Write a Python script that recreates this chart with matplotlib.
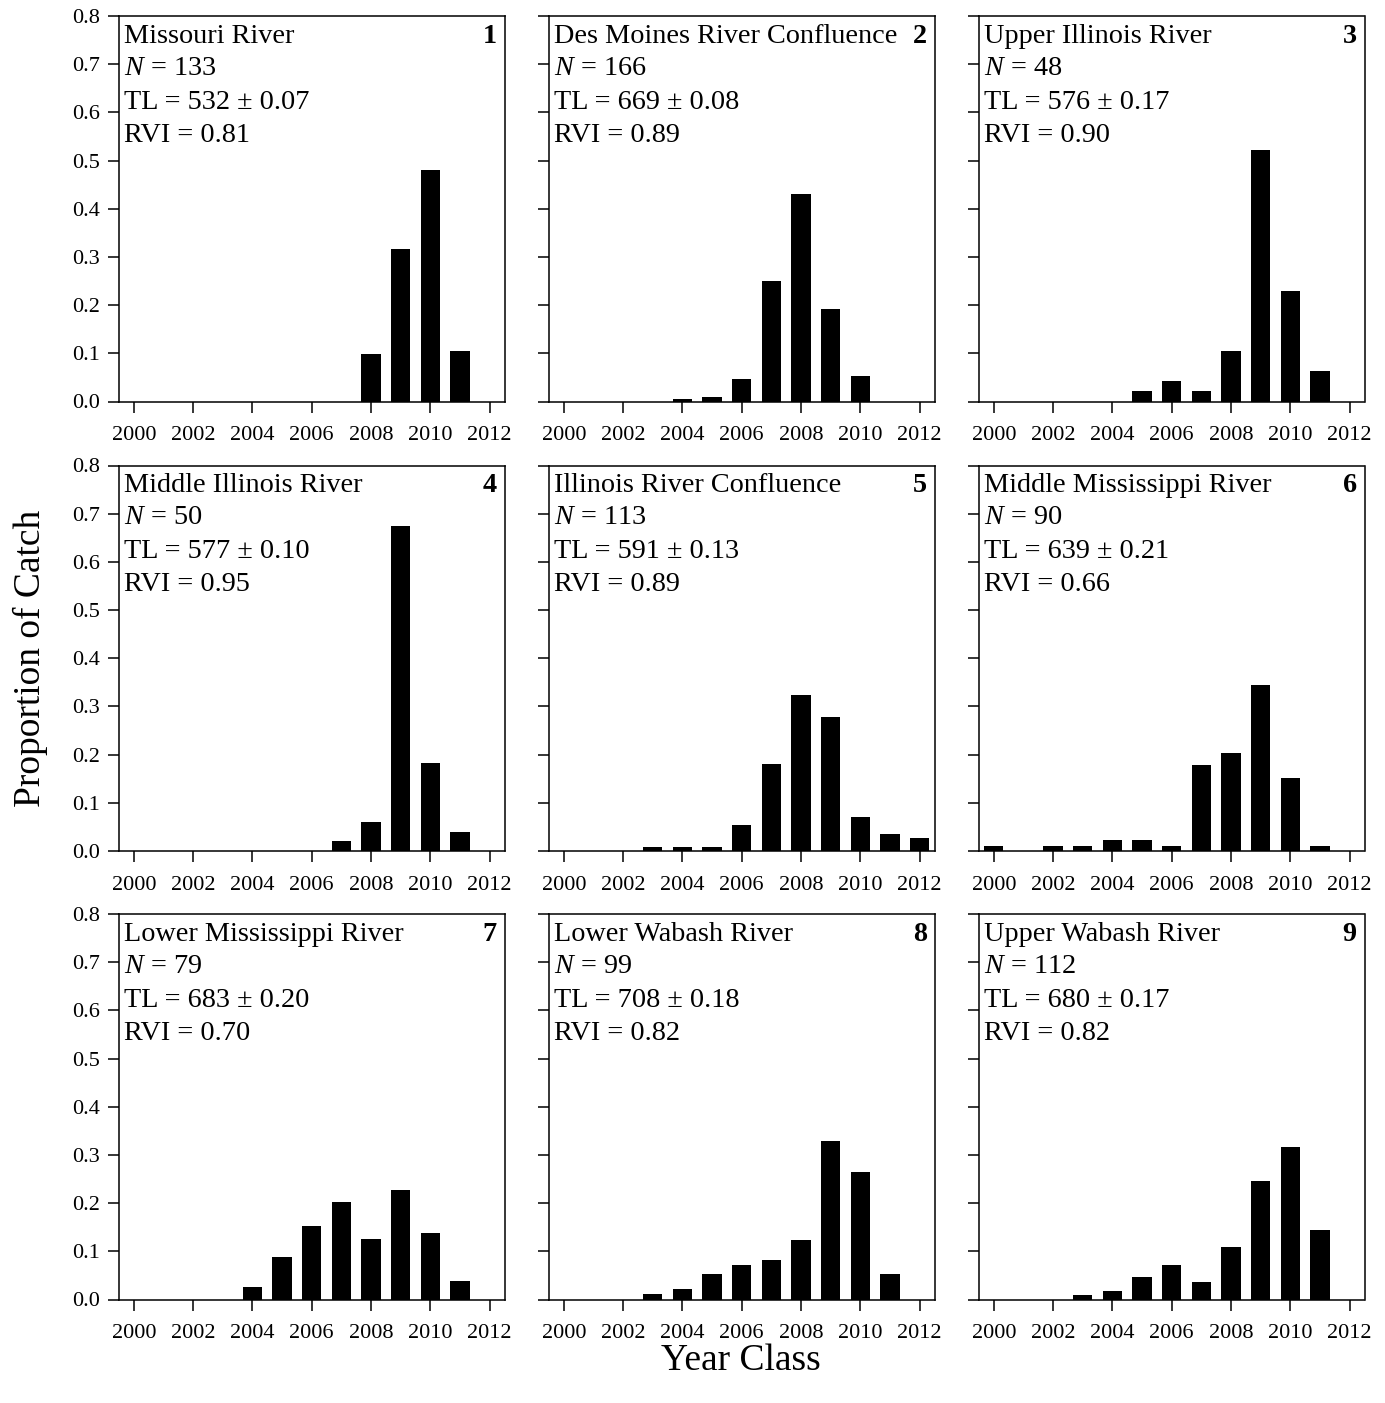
import matplotlib
matplotlib.use("Agg")
import matplotlib.pyplot as plt

plt.rcParams['font.family'] = ['Liberation Serif', 'DejaVu Serif']
plt.rcParams['mathtext.fontset'] = 'custom'
plt.rcParams['mathtext.rm'] = 'Liberation Serif'
plt.rcParams['mathtext.it'] = 'Liberation Serif:italic'

# Year classes on the x axis
years = list(range(2000, 2013))
xtick_years = [2000, 2002, 2004, 2006, 2008, 2010, 2012]
yticks = [0.0, 0.1, 0.2, 0.3, 0.4, 0.5, 0.6, 0.7, 0.8]

# Proportion of catch per year class (2000..2012)
missouri      = [0, 0, 0, 0, 0, 0, 0, 0, 0.098, 0.316, 0.481, 0.105, 0]
des_moines    = [0, 0, 0, 0, 0.005, 0.010, 0.047, 0.250, 0.430, 0.192, 0.053, 0, 0]
upper_il      = [0, 0, 0, 0, 0, 0.021, 0.042, 0.021, 0.104, 0.521, 0.229, 0.063, 0]
middle_il     = [0, 0, 0, 0, 0, 0, 0, 0.020, 0.061, 0.674, 0.183, 0.040, 0]
il_confluence = [0, 0, 0, 0.009, 0.009, 0.009, 0.053, 0.180, 0.324, 0.279, 0.071, 0.036, 0.027]
middle_miss   = [0.011, 0, 0.011, 0.011, 0.023, 0.023, 0.011, 0.178, 0.204, 0.344, 0.152, 0.011, 0]
lower_miss    = [0, 0, 0, 0, 0.026, 0.088, 0.152, 0.202, 0.126, 0.228, 0.139, 0.038, 0]
lower_wabash  = [0, 0, 0, 0.011, 0.021, 0.052, 0.072, 0.083, 0.123, 0.328, 0.265, 0.052, 0]
upper_wabash  = [0, 0, 0, 0.009, 0.018, 0.046, 0.072, 0.036, 0.108, 0.245, 0.317, 0.145, 0]

names = ["Missouri River", "Des Moines River Confluence", "Upper Illinois River",
         "Middle Illinois River", "Illinois River Confluence", "Middle Mississippi River",
         "Lower Mississippi River", "Lower Wabash River", "Upper Wabash River"]
n_fish = [133, 166, 48, 50, 113, 90, 79, 99, 112]
tl_text = ["532 ± 0.07", "669 ± 0.08", "576 ± 0.17", "577 ± 0.10", "591 ± 0.13",
           "639 ± 0.21", "683 ± 0.20", "708 ± 0.18", "680 ± 0.17"]
rvi = ["0.81", "0.89", "0.90", "0.95", "0.89", "0.66", "0.70", "0.82", "0.82"]
panels = [missouri, des_moines, upper_il, middle_il, il_confluence,
          middle_miss, lower_miss, lower_wabash, upper_wabash]

W, H = 1385, 1403
fig = plt.figure(figsize=(W / 100, H / 100), dpi=100)

col_left = [119, 549, 979]
col_width = 385.5
row_top = [16, 465.5, 914]
row_height = 385.5

for i, vals in enumerate(panels):
    r, c = divmod(i, 3)
    rect = [col_left[c] / W, 1 - (row_top[r] + row_height) / H,
            col_width / W, row_height / H]
    ax = fig.add_axes(rect)
    ax.bar(years, vals, width=0.65, color='black', edgecolor='none')
    ax.set_xlim(1999.5, 2012.5)
    ax.set_ylim(0, 0.8)
    ax.set_xticks(xtick_years)
    ax.set_yticks(yticks)
    if c == 0:
        ax.set_yticklabels([f"{v:.1f}" for v in yticks])
    else:
        ax.set_yticklabels([])
    ax.tick_params(direction='out', length=8, width=1.1, labelsize=16)
    ax.tick_params(axis='x', pad=10)
    ax.tick_params(axis='y', pad=6)
    for s in ax.spines.values():
        s.set_linewidth(1.1)

    lines = [names[i], f"$N$ = {n_fish[i]}", f"TL = {tl_text[i]}", f"RVI = {rvi[i]}"]
    ys = [0.931, 0.847, 0.760, 0.674]
    for txt, y in zip(lines, ys):
        ax.text(0.013, y, txt, transform=ax.transAxes, fontsize=20.3,
                ha='left', va='baseline')
    ax.text(0.98, 0.931, str(i + 1), transform=ax.transAxes, fontsize=20.3,
            fontweight='bold', ha='right', va='baseline')

fig.text(30 / W, 1 - 658 / H, "Proportion of Catch", rotation=90,
         fontsize=27, ha='center', va='center')
fig.text(741 / W, 1 - 1361 / H, "Year Class", fontsize=27,
         ha='center', va='center')

fig.savefig("out.png", dpi=100)
